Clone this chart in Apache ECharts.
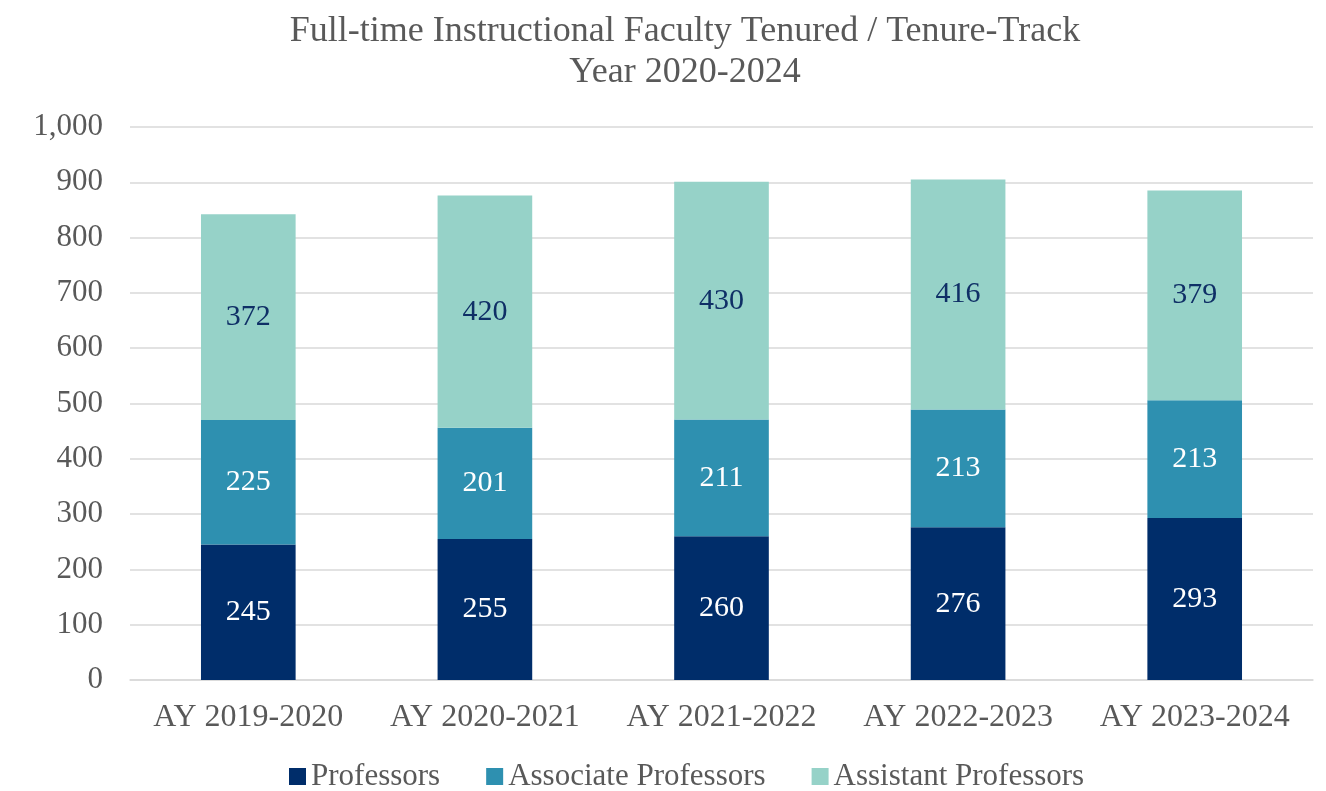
<!DOCTYPE html>
<html>
<head>
<meta charset="utf-8">
<script src="https://cdn.jsdelivr.net/npm/echarts@6/dist/echarts.min.js"></script>
<style>
  html, body { margin: 0; padding: 0; background: #fff; }
  #chart { width: 1326px; height: 791px; }
</style>
</head>
<body>
<div id="chart"></div>
<script>
// 数据
var years = ['AY 2019-2020', 'AY 2020-2021', 'AY 2021-2022', 'AY 2022-2023', 'AY 2023-2024'];
var professors = [245, 255, 260, 276, 293];
var associate = [225, 201, 211, 213, 213];
var assistant = [372, 420, 430, 416, 379];

var serif = '"Liberation Serif", "DejaVu Serif", serif';
var grey = '#595959';

var chart = echarts.init(document.getElementById('chart'));

var option = {
    title: {
        text: 'Full-time Instructional Faculty Tenured / Tenure-Track\nYear 2020-2024',
        left: 680,
        top: 6,
        textAlign: 'center',
        textStyle: {
            fontFamily: serif,
            fontSize: 36,
            fontWeight: 'normal',
            color: grey,
            lineHeight: 41
        }
    },
    legend: {
        top: 756,
        left: 284,
        itemWidth: 17,
        itemHeight: 17,
        itemGap: 46,
        icon: 'rect',
        textStyle: { fontFamily: serif, fontSize: 31, color: grey },
        data: ['Professors', 'Associate Professors', 'Assistant Professors']
    },
    grid: {
        left: 130,
        right: 13,
        top: 127,
        bottom: 111,
        containLabel: false
    },
    xAxis: {
        type: 'category',
        data: years,
        axisTick: { show: false },
        axisLine: { lineStyle: { color: '#d9d9d9', width: 1.5 } },
        axisLabel: { fontFamily: serif, fontSize: 32, color: grey, margin: 22, interval: 0 }
    },
    yAxis: {
        type: 'value',
        min: 0,
        max: 1000,
        interval: 100,
        axisLine: { show: false },
        axisTick: { show: false },
        splitLine: { lineStyle: { color: '#d9d9d9', width: 1.5 } },
        axisLabel: {
            fontFamily: serif, fontSize: 31, color: grey, margin: 27,
            formatter: function (v) { return v.toLocaleString('en-US'); }
        }
    },
    series: [
        {
            name: 'Professors',
            type: 'bar',
            stack: 'total',
            barWidth: '40%',
            data: professors,
            itemStyle: { color: '#002D6A' },
            label: { show: true, position: 'inside', fontFamily: serif, fontSize: 30, color: '#ffffff' }
        },
        {
            name: 'Associate Professors',
            type: 'bar',
            stack: 'total',
            data: associate,
            itemStyle: { color: '#2E90B0' },
            label: { show: true, position: 'inside', fontFamily: serif, fontSize: 30, color: '#ffffff' }
        },
        {
            name: 'Assistant Professors',
            type: 'bar',
            stack: 'total',
            data: assistant,
            itemStyle: { color: '#96D2C8' },
            label: { show: true, position: 'inside', fontFamily: serif, fontSize: 30, color: '#0F2F66' }
        }
    ]
};

chart.setOption(option);
</script>
</body>
</html>
